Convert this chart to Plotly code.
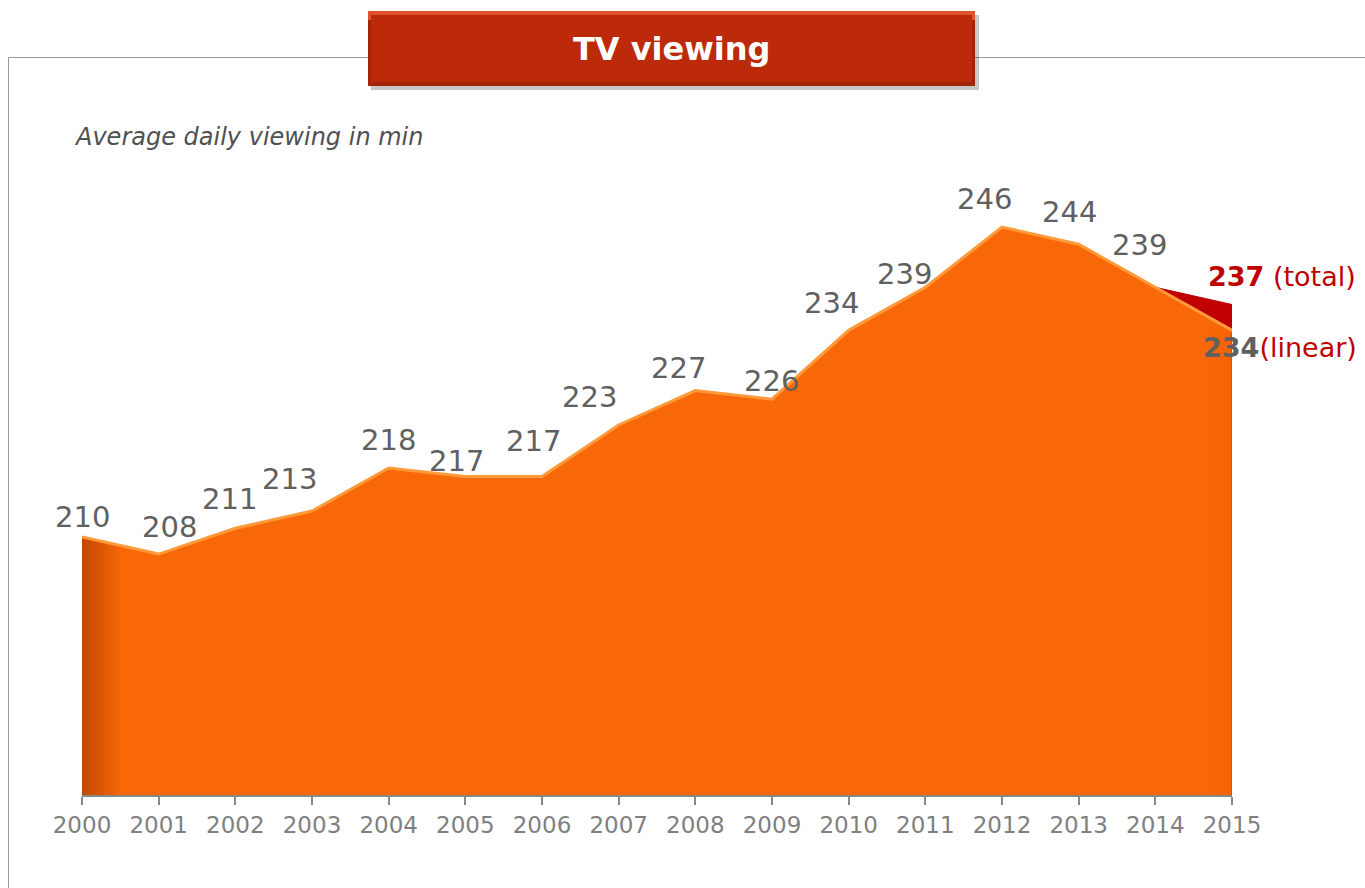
import plotly.graph_objects as go

# ---- data ----
years = [2000, 2001, 2002, 2003, 2004, 2005, 2006, 2007,
         2008, 2009, 2010, 2011, 2012, 2013, 2014, 2015]
linear_minutes = [210, 208, 211, 213, 218, 217, 217, 223,
                  227, 226, 234, 239, 246, 244, 239, 234]
total_years = [2014, 2015]
total_minutes = [239, 237]
year_labels = [str(y) for y in years]

title_text = "TV viewing"
subtitle_text = "Average daily viewing in min"

# label nudges in pixels (styling only)
label_dx = [0, 11, -6, -23, 0, -9, -9, -29, -17, -1, -17, -21, -18, -9, -16]
label_dy = [20, 27, 29, 32, 28, 16, 36, 28, 23, 18, 27, 13, 28, 32, 42]

W, H = 1365, 888
ML, MR, MT, MB = 82, 133, 141, 93
PW, PH = W - ML - MR, H - MT - MB


def px(xp):
    return (xp - ML) / PW


def py(yp):
    return (H - MB - yp) / PH


fig = go.Figure()

# total (red) area behind
fig.add_trace(go.Scatter(
    x=total_years, y=total_minutes, mode="lines",
    fill="tozeroy", fillcolor="#C00000",
    line=dict(color="#C00000", width=1), hoverinfo="skip", showlegend=False))

# linear (orange) area
fig.add_trace(go.Scatter(
    x=years, y=linear_minutes, mode="lines",
    fill="tozeroy",
    fillgradient=dict(
        type="horizontal",
        colorscale=[[0.0, "#C24800"], [0.035, "#F96808"],
                    [0.97, "#F96808"], [1.0, "#F46406"]]),
    line=dict(color="#FF9A3A", width=3), hoverinfo="skip", showlegend=False))

annotations = []
for i in range(len(years) - 1):
    annotations.append(dict(
        x=years[i], y=linear_minutes[i], xref="x", yref="y",
        text=str(linear_minutes[i]), showarrow=False,
        xshift=label_dx[i], yshift=label_dy[i],
        font=dict(family="DejaVu Sans", size=29, color="#606060")))

annotations.append(dict(
    x=total_years[-1], y=total_minutes[-1], xref="x", yref="y",
    text=f"<b>{total_minutes[-1]}</b> (total)", showarrow=False,
    xanchor="left", xshift=-26, yshift=28,
    font=dict(family="DejaVu Sans", size=27, color="#C00000")))

annotations.append(dict(
    x=years[-1], y=linear_minutes[-1], xref="x", yref="y",
    text=f"<b><span style='color:#606060'>{linear_minutes[-1]}</span></b>(linear)",
    showarrow=False, xanchor="left", xshift=-31, yshift=-17,
    font=dict(family="DejaVu Sans", size=27, color="#C00000")))

annotations.append(dict(
    x=px(72), y=py(137), xref="paper", yref="paper",
    text=f"<i>{subtitle_text}</i>", showarrow=False,
    xanchor="left", yanchor="middle",
    font=dict(family="DejaVu Sans", size=24, color="#505050")))

annotations.append(dict(
    x=px(671), y=py(49), xref="paper", yref="paper",
    text=f"<b>{title_text}</b>", showarrow=False,
    xanchor="center", yanchor="middle",
    font=dict(family="DejaVu Sans", size=32, color="#FFFFFF")))

shapes = [
    # frame
    dict(type="line", xref="paper", yref="paper",
         x0=px(8.5), x1=px(1370), y0=py(57.5), y1=py(57.5),
         line=dict(color="#999999", width=1)),
    dict(type="line", xref="paper", yref="paper",
         x0=px(8.5), x1=px(8.5), y0=py(57.5), y1=py(895),
         line=dict(color="#999999", width=1)),
    # right edge of area
    dict(type="line", xref="x", yref="paper",
         x0=years[-1], x1=years[-1], y0=0, y1=py(333),
         line=dict(color="#C85000", width=1.5)),
    # title box shadow
    dict(type="rect", xref="paper", yref="paper",
         x0=px(371), x1=px(979), y0=py(15), y1=py(90),
         fillcolor="rgba(0,0,0,0.22)", line=dict(width=0), layer="above"),
    # title box (dark bottom / sides)
    dict(type="rect", xref="paper", yref="paper",
         x0=px(368), x1=px(975), y0=py(11), y1=py(86),
         fillcolor="#A32407", line=dict(width=0), layer="above"),
    # light top bevel
    dict(type="rect", xref="paper", yref="paper",
         x0=px(368), x1=px(975), y0=py(11), y1=py(20),
         fillcolor="#E0522E", line=dict(width=0), layer="above"),
    # face
    dict(type="rect", xref="paper", yref="paper",
         x0=px(371), x1=px(972), y0=py(15), y1=py(82),
         fillcolor="#BD2A0A", line=dict(width=0), layer="above"),
]

fig.update_layout(
    width=W, height=H,
    margin=dict(l=ML, r=MR, t=MT, b=MB),
    paper_bgcolor="white", plot_bgcolor="white",
    xaxis=dict(
        range=[2000, 2015], tickmode="array", tickvals=years,
        ticktext=year_labels, showgrid=False, zeroline=False,
        showline=True, linecolor="#888888", linewidth=2,
        ticks="outside", ticklen=8, tickwidth=2, tickcolor="#888888",
        tickfont=dict(family="DejaVu Sans", size=23, color="#808080")),
    yaxis=dict(range=[180, 256], visible=False, showgrid=False,
               zeroline=False),
    annotations=annotations, shapes=shapes,
    showlegend=False,
)

fig.write_html("out.html")
